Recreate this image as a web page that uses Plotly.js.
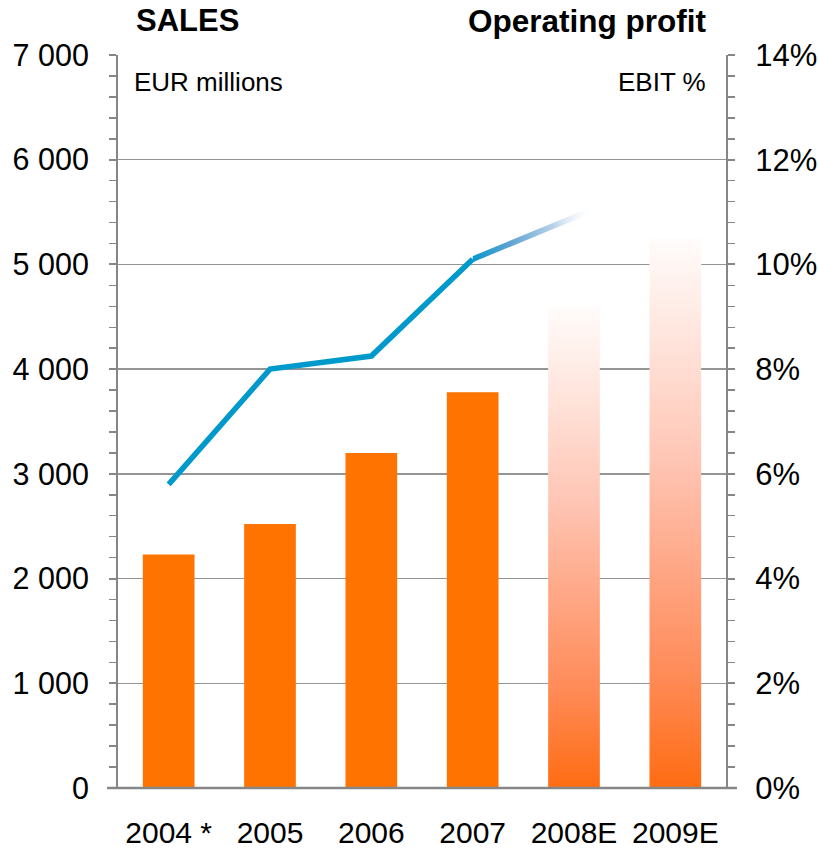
<!DOCTYPE html>
<html>
<head>
<meta charset="utf-8">
<script src="https://cdn.plot.ly/plotly-3.0.1.min.js"></script>
<style>html,body{margin:0;padding:0;background:#fff;}#chart{width:818px;height:849px;}</style>
</head>
<body>
<div id="chart"></div>
<script>
// ---- data ----
const categories = ['2004 *', '2005', '2006', '2007', '2008E', '2009E'];
const salesActual = [2230, 2520, 3200, 3780];      // EUR millions, 2004*-2007
const salesEstimate = [4600, 5250];                // EUR millions, 2008E-2009E
const ebitActual = [5.8, 8.0, 8.25, 10.1];         // EBIT %, 2004*-2007
const ebitTrend = [10.1, 11.7];                    // EBIT % fading trend, 2007 -> 2009E (fades out before 2009E)

// ---- style ----
const FONT = 'Arial, "Liberation Sans", sans-serif';
const AXIS = '#868686';
const BAR_W = 0.51;
const LINE_HALF = 0.058; // half thickness of fading line, in % units

const idx = categories.map((_, i) => i);
const traces = [];

traces.push({
  type: 'bar', x: idx.slice(0, salesActual.length), y: salesActual, width: BAR_W,
  marker: {color: '#FF7300', line: {width: 0}}, yaxis: 'y', hoverinfo: 'skip'
});

salesEstimate.forEach((v, k) => {
  const i = salesActual.length + k;
  traces.push({
    type: 'scatter', mode: 'lines', yaxis: 'y', hoverinfo: 'skip',
    x: [i - BAR_W / 2, i + BAR_W / 2, i + BAR_W / 2, i - BAR_W / 2, i - BAR_W / 2],
    y: [0, 0, v, v, 0],
    fill: 'toself', line: {width: 0, color: 'rgba(0,0,0,0)'},
    fillgradient: {
      type: 'vertical',
      colorscale: [[0, '#FF6C12'], [0.2, '#FF8A56'], [0.4, '#FFA786'], [0.6, '#FFC6B5'], [0.8, '#FFE2D9'], [1, '#FFFCFB']]
    }
  });
});

traces.push({
  type: 'scatter', mode: 'lines', x: idx.slice(0, ebitActual.length), y: ebitActual,
  yaxis: 'y2', line: {color: '#0099CC', width: 5.5}, hoverinfo: 'skip'
});

const t0 = ebitActual.length - 1;
const t1 = categories.length - 1;
traces.push({
  type: 'scatter', mode: 'lines', yaxis: 'y2', hoverinfo: 'skip',
  x: [t0, t1, t1, t0, t0],
  y: [ebitTrend[0] - LINE_HALF, ebitTrend[1] - LINE_HALF, ebitTrend[1] + LINE_HALF, ebitTrend[0] + LINE_HALF, ebitTrend[0] - LINE_HALF],
  fill: 'toself', line: {width: 0, color: 'rgba(0,0,0,0)'},
  fillgradient: {
    type: 'horizontal',
    colorscale: [[0, '#0898CB'], [0.18, '#5DA2D3'], [0.4, '#BAD2E9'], [0.6, 'rgba(255,255,255,0)'], [1, 'rgba(255,255,255,0)']]
  }
});

const commonY = {
  showline: true, linecolor: AXIS, linewidth: 2,
  ticks: 'outside', ticklen: 7, tickwidth: 2, tickcolor: AXIS,
  zeroline: false,
  ticklabelstandoff: 14, fixedrange: true
};

const layout = {
  width: 818, height: 849,
  margin: {l: 118, r: 92, t: 55, b: 61},
  paper_bgcolor: '#fff', plot_bgcolor: '#fff',
  showlegend: false, hovermode: false,
  separators: '. ',
  font: {family: FONT, color: '#000'},
  xaxis: {
    type: 'linear', range: [-0.5, 5.5], tickvals: idx, ticktext: categories,
    showgrid: false, zeroline: false, showline: false, ticks: '',
    tickfont: {family: FONT, size: 30, color: '#000'}, ticklabelstandoff: 24, fixedrange: true
  },
  yaxis: Object.assign({}, commonY, {
    range: [0, 7000], dtick: 1000, tickformat: ',d',
    tickfont: {family: FONT, size: 30.5, color: '#000'},
    showgrid: true, gridcolor: '#959595', gridwidth: 1.4,
    minor: {dtick: 200, ticks: 'outside', ticklen: 7, tickwidth: 1.5, tickcolor: AXIS, showgrid: false}
  }),
  yaxis2: Object.assign({}, commonY, {
    overlaying: 'y', side: 'right', range: [0, 14], dtick: 2, ticksuffix: '%',
    tickfont: {family: FONT, size: 31, color: '#000'},
    showgrid: false,
    minor: {dtick: 0.4, ticks: 'outside', ticklen: 7, tickwidth: 1.5, tickcolor: AXIS, showgrid: false}
  }),
  shapes: [{
    type: 'line', xref: 'paper', yref: 'paper', x0: -0.018, x1: 1.018, y0: 0, y1: 0,
    line: {color: AXIS, width: 2.5}
  }],
  annotations: [
    {text: '<b>SALES</b>', xref: 'paper', yref: 'paper', x: 0.026, y: 1.047, xanchor: 'left', yanchor: 'middle', showarrow: false, font: {family: FONT, size: 31, color: '#000'}},
    {text: '<b>Operating profit</b>', xref: 'paper', yref: 'paper', x: 0.971, y: 1.047, xanchor: 'right', yanchor: 'middle', showarrow: false, font: {family: FONT, size: 31.5, color: '#000'}},
    {text: 'EUR millions', xref: 'paper', yref: 'paper', x: 0.023, y: 0.963, xanchor: 'left', yanchor: 'middle', showarrow: false, font: {family: FONT, size: 26, color: '#000'}},
    {text: 'EBIT %', xref: 'paper', yref: 'paper', x: 0.971, y: 0.963, xanchor: 'right', yanchor: 'middle', showarrow: false, font: {family: FONT, size: 26, color: '#000'}}
  ]
};

Plotly.newPlot('chart', traces, layout, {staticPlot: true, displayModeBar: false});
</script>
</body>
</html>
